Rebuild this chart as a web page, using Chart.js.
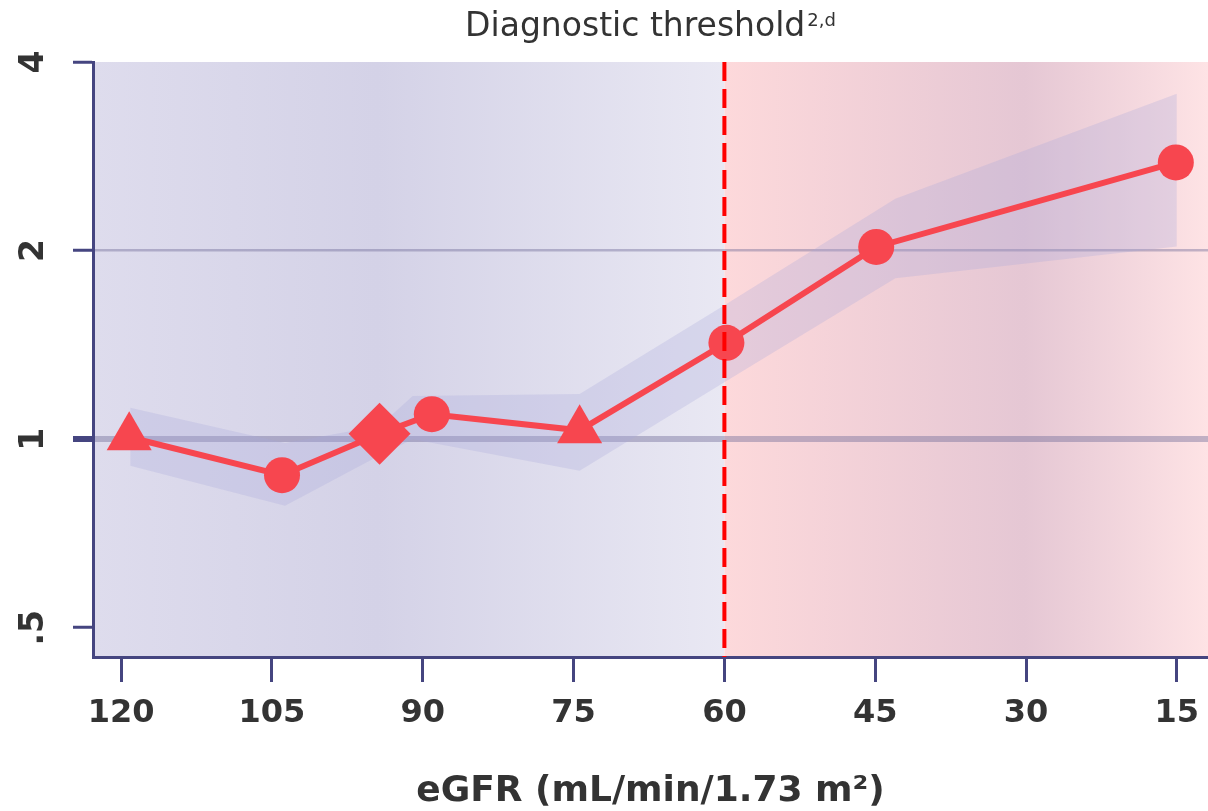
<!DOCTYPE html>
<html>
<head>
<meta charset="utf-8">
<title>eGFR diagnostic threshold</title>
<script src="https://cdn.jsdelivr.net/npm/chart.js@4.4.0/dist/chart.umd.min.js"></script>
<style>
  html, body { margin: 0; padding: 0; background: #fff; }
  #chart { display: block; }
</style>
</head>
<body>
<canvas id="chart" width="1208" height="811"></canvas>
<script>
// point estimates
const egfrValues = [119.2, 104.0, 94.3, 89.1, 74.4, 59.8, 44.9, 15.1];
const hazardRatios = [1.007, 0.876, 1.02, 1.096, 1.033, 1.425, 2.027, 2.765];
const markerShapes = ["triangle", "circle", "rectRot", "circle", "triangle", "circle", "circle", "circle"];

// confidence band
const bandEgfr = [119.1, 103.7, 94.3, 91.0, 74.4, 59.8, 43.0, 15.0];
const ciUpper = [1.122, 0.986, 1.05, 1.172, 1.18, 1.643, 2.42, 3.56];
const ciLower = [0.907, 0.783, 0.942, 1.0, 0.89, 1.238, 1.807, 2.03];

// axes
const xTickValues = [120, 105, 90, 75, 60, 45, 30, 15];
const yTickValues = [0.5, 1, 2, 4];
const yTickLabels = [".5", "1", "2", "4"];
const thresholdEgfr = 60;

const FONT = "'DejaVu Sans', Verdana, sans-serif";
const AXIS_COLOR = "#454580";
const TEXT_COLOR = "#333333";
const RED = "#f7464f";

function markerSize(shape) {
    if (shape === "triangle") return 26;
    if (shape === "rectRot") return 31;
    return 18;
}

const zoneBackground = {
    id: "zoneBackground",
    beforeDraw(chart) {
        const { ctx, chartArea, scales } = chart;
        const split = scales.x.getPixelForValue(thresholdEgfr);
        const { left, right, top, bottom } = chartArea;

        let g = ctx.createLinearGradient(left, 0, split, 0);
        g.addColorStop(0, "#dedced");
        g.addColorStop(0.45, "#d4d2e7");
        g.addColorStop(1, "#e9e8f3");
        ctx.save();
        ctx.fillStyle = g;
        ctx.fillRect(left, top, split - left, bottom - top);

        g = ctx.createLinearGradient(split, 0, right, 0);
        g.addColorStop(0, "#fdd9db");
        g.addColorStop(0.62, "#e5c7d4");
        g.addColorStop(1, "#fee3e5");
        ctx.fillStyle = g;
        ctx.fillRect(split, top, right - split, bottom - top);
        ctx.restore();
    }
};

const thresholdLine = {
    id: "thresholdLine",
    afterDatasetsDraw(chart) {
        const { ctx, chartArea, scales } = chart;
        const x = scales.x.getPixelForValue(thresholdEgfr);
        ctx.save();
        ctx.strokeStyle = "#ff0000";
        ctx.lineWidth = 4;
        ctx.setLineDash([19, 8]);
        ctx.beginPath();
        ctx.moveTo(x, chartArea.top);
        ctx.lineTo(x, chartArea.bottom);
        ctx.stroke();
        ctx.restore();
    }
};

// rotated y labels + title with superscript
const textLayer = {
    id: "textLayer",
    afterDraw(chart) {
        const { ctx, chartArea, scales } = chart;
        ctx.save();
        ctx.fillStyle = TEXT_COLOR;
        ctx.font = "bold 33px " + FONT;
        ctx.textAlign = "center";
        ctx.textBaseline = "alphabetic";
        yTickValues.forEach((v, i) => {
            const y = scales.y.getPixelForValue(v);
            ctx.save();
            ctx.translate(43, y);
            ctx.rotate(-Math.PI / 2);
            ctx.fillText(yTickLabels[i], 0, 0);
            ctx.restore();
        });

        const main = "Diagnostic threshold";
        const sup = "2,d";
        ctx.font = "33px " + FONT;
        const mainW = ctx.measureText(main).width;
        ctx.font = "18px " + FONT;
        const supW = ctx.measureText(sup).width;
        const cx = (chartArea.left + chartArea.right) / 2;
        const x0 = cx - (mainW + supW + 2) / 2;
        ctx.textAlign = "left";
        ctx.font = "33px " + FONT;
        ctx.fillText(main, x0, 36);
        ctx.font = "18px " + FONT;
        ctx.fillText(sup, x0 + mainW + 2, 26);
        ctx.restore();
    }
};

new Chart(document.getElementById("chart"), {
    type: "line",
    data: {
        datasets: [
            {
                label: "HR",
                data: egfrValues.map((x, i) => ({ x, y: hazardRatios[i] })),
                borderColor: RED,
                borderWidth: 6,
                pointStyle: markerShapes,
                pointRadius: markerShapes.map(markerSize),
                pointBackgroundColor: RED,
                pointBorderWidth: 0,
                order: 0
            },
            {
                label: "upper",
                data: bandEgfr.map((x, i) => ({ x, y: ciUpper[i] })),
                borderWidth: 0,
                pointRadius: 0,
                fill: false,
                order: 2
            },
            {
                label: "lower",
                data: bandEgfr.map((x, i) => ({ x, y: ciLower[i] })),
                borderWidth: 0,
                pointRadius: 0,
                fill: "-1",
                backgroundColor: "rgba(170, 168, 220, 0.28)",
                order: 1
            }
        ]
    },
    options: {
        responsive: false,
        animation: false,
        layout: { autoPadding: false, padding: { top: 62, left: 0, right: 0, bottom: 0 } },
        plugins: {
            legend: { display: false },
            tooltip: { enabled: false }
        },
        scales: {
            x: {
                type: "linear",
                reverse: true,
                min: 11.9,
                max: 122.8,
                afterBuildTicks: (scale) => {
                    scale.ticks = xTickValues.map((v) => ({ value: v }));
                },
                afterFit: (scale) => {
                    scale.height = 154;
                    scale.paddingLeft = 0;
                    scale.paddingRight = 0;
                },
                border: { color: AXIS_COLOR, width: 3 },
                grid: {
                    drawOnChartArea: false,
                    tickLength: 25,
                    tickColor: AXIS_COLOR,
                    tickWidth: 3
                },
                ticks: {
                    color: TEXT_COLOR,
                    padding: 12,
                    maxRotation: 0,
                    font: { family: FONT, size: 32, weight: "bold" }
                },
                title: {
                    display: true,
                    text: "eGFR (mL/min/1.73 m²)",
                    color: TEXT_COLOR,
                    padding: { top: 0, bottom: 0 },
                    font: { family: FONT, size: 36, weight: "bold", lineHeight: 1.1 }
                }
            },
            y: {
                type: "logarithmic",
                min: 0.449,
                max: 4,
                z: 1,
                afterBuildTicks: (scale) => {
                    scale.ticks = yTickValues.map((v) => ({ value: v }));
                },
                afterFit: (scale) => {
                    scale.width = 93;
                    scale.paddingTop = 0;
                    scale.paddingBottom = 0;
                },
                border: { color: AXIS_COLOR, width: 3 },
                grid: {
                    color: (c) => {
                        const v = c.tick && c.tick.value;
                        return v === 1 || v === 2 ? "rgba(110, 105, 150, 0.42)" : "rgba(0,0,0,0)";
                    },
                    lineWidth: (c) => (c.tick && c.tick.value === 1 ? 6 : 2.5),
                    tickLength: 20,
                    tickColor: AXIS_COLOR,
                    tickWidth: (c) => (c.tick && c.tick.value === 1 ? 6 : 3)
                },
                ticks: { display: false }
            }
        }
    },
    plugins: [zoneBackground, thresholdLine, textLayer]
});
</script>
</body>
</html>
